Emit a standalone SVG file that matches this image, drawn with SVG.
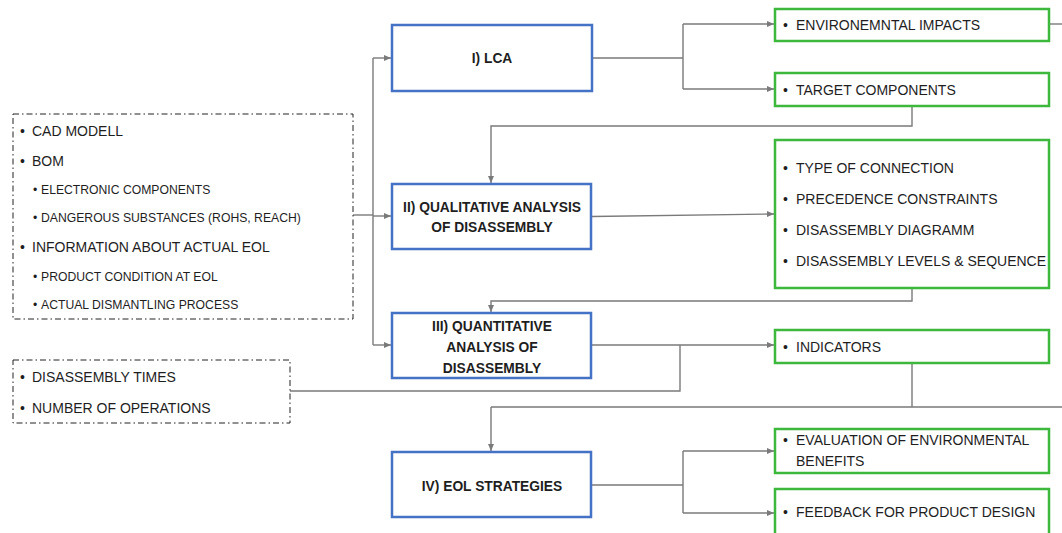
<svg xmlns="http://www.w3.org/2000/svg" width="1062" height="533" viewBox="0 0 1062 533">
<style>
.blue{fill:#fff;stroke:#4472C4;stroke-width:2.5}
.green{fill:#fff;stroke:#3DB83D;stroke-width:2.5}
.dash{fill:#fff;stroke:#222;stroke-width:1;stroke-dasharray:6 3 1.5 3}
.t{font-family:"Liberation Sans",Arial,sans-serif;font-size:14px;fill:#1e1e1e}
.s{font-family:"Liberation Sans",Arial,sans-serif;font-size:12.2px;fill:#1e1e1e}
.b{font-family:"Liberation Sans",Arial,sans-serif;font-size:13.8px;font-weight:bold;fill:#1e1e1e;text-anchor:middle}
.c{fill:none;stroke:#7a7a7a;stroke-width:1.4}
.a{marker-end:url(#arr)}
</style>
<defs>
<marker id="arr" markerUnits="userSpaceOnUse" markerWidth="8" markerHeight="8" refX="7" refY="4" orient="auto">
<path d="M0,1 L7,4 L0,7 Z" fill="#7a7a7a"/>
</marker>
</defs>
<rect width="1062" height="533" fill="#fff"/>
<g id="connectors">
<path class="c" d="M353,215 H373"/>
<path class="c" d="M373,345 V58"/>
<path class="c a" d="M373,58 H391"/>
<path class="c a" d="M373,216 H391"/>
<path class="c a" d="M373,345 H391"/>
<path class="c" d="M592,58 H683 M683,24 V89"/>
<path class="c a" d="M683,24 H774"/>
<path class="c a" d="M683,89 H774"/>
<path class="c" d="M1049,24 H1062"/>
<path class="c a" d="M912,107 V126 H491 V183"/>
<path class="c a" d="M592,216.5 L774,214"/>
<path class="c a" d="M912,288 V301 H491 V312"/>
<path class="c a" d="M592,345 H774"/>
<path class="c" d="M290,391 H680 V345"/>
<path class="c" d="M912,363 V407 M491,407 H1062"/>
<path class="c a" d="M491,407 V451"/>
<path class="c" d="M591,485 H683 M683,451 V513"/>
<path class="c a" d="M683,451 H774"/>
<path class="c a" d="M683,513 H774"/>
</g>
<g id="inputs-a">
<rect class="dash" x="13" y="114" width="340" height="205"/>
<text class="t" x="20" y="136">•</text><text class="t" x="32" y="136">CAD MODELL</text>
<text class="t" x="20" y="166">•</text><text class="t" x="32" y="166">BOM</text>
<text class="s" x="33" y="194">•</text><text class="s" x="41" y="194">ELECTRONIC COMPONENTS</text>
<text class="s" x="33" y="222">•</text><text class="s" x="41" y="222">DANGEROUS SUBSTANCES (ROHS, REACH)</text>
<text class="t" x="20" y="252">•</text><text class="t" x="32" y="252">INFORMATION ABOUT ACTUAL EOL</text>
<text class="s" x="33" y="281">•</text><text class="s" x="41" y="281">PRODUCT CONDITION AT EOL</text>
<text class="s" x="33" y="309">•</text><text class="s" x="41" y="309">ACTUAL DISMANTLING PROCESS</text>
</g>
<g id="inputs-b">
<rect class="dash" x="13" y="360" width="277" height="63"/>
<text class="t" x="20" y="382">•</text><text class="t" x="32" y="382">DISASSEMBLY TIMES</text>
<text class="t" x="20" y="413">•</text><text class="t" x="32" y="413">NUMBER OF OPERATIONS</text>
</g>
<g id="lca">
<rect class="blue" x="392" y="25" width="200" height="66"/>
<text class="b" x="492" y="63">I) LCA</text>
</g>
<g id="qualitative">
<rect class="blue" x="392" y="184" width="199" height="65"/>
<text class="b" x="492" y="211.5">II) QUALITATIVE ANALYSIS</text>
<text class="b" x="492" y="232">OF DISASSEMBLY</text>
</g>
<g id="quantitative">
<rect class="blue" x="392" y="313" width="199" height="65"/>
<text class="b" x="492" y="331">III) QUANTITATIVE</text>
<text class="b" x="492" y="352">ANALYSIS OF</text>
<text class="b" x="492" y="372.5">DISASSEMBLY</text>
</g>
<g id="eol">
<rect class="blue" x="392" y="452" width="199" height="65"/>
<text class="b" x="492" y="491">IV) EOL STRATEGIES</text>
</g>
<g id="env-impacts">
<rect class="green" x="775" y="9" width="274" height="32"/>
<text class="t" x="783" y="30">•</text><text class="t" x="796" y="30">ENVIRONEMNTAL IMPACTS</text>
</g>
<g id="target">
<rect class="green" x="775" y="73" width="274" height="33"/>
<text class="t" x="783" y="95">•</text><text class="t" x="796" y="95">TARGET COMPONENTS</text>
</g>
<g id="qual-results">
<rect class="green" x="775" y="140" width="274" height="148"/>
<text class="t" x="783" y="173">•</text><text class="t" x="796" y="173">TYPE OF CONNECTION</text>
<text class="t" x="783" y="204">•</text><text class="t" x="796" y="204">PRECEDENCE CONSTRAINTS</text>
<text class="t" x="783" y="235">•</text><text class="t" x="796" y="235">DISASSEMBLY DIAGRAMM</text>
<text class="t" x="783" y="266">•</text><text class="t" x="796" y="266">DISASSEMBLY LEVELS &amp; SEQUENCE</text>
</g>
<g id="indicators">
<rect class="green" x="775" y="330" width="274" height="33"/>
<text class="t" x="783" y="352">•</text><text class="t" x="796" y="352">INDICATORS</text>
</g>
<g id="evaluation">
<rect class="green" x="775" y="429" width="274" height="44"/>
<text class="t" x="783" y="445">•</text><text class="t" x="796" y="445">EVALUATION OF ENVIRONMENTAL</text>
<text class="t" x="796" y="466">BENEFITS</text>
</g>
<g id="feedback">
<rect class="green" x="775" y="489" width="274" height="60"/>
<text class="t" x="783" y="517">•</text><text class="t" x="796" y="517">FEEDBACK FOR PRODUCT DESIGN</text>
</g>
</svg>
